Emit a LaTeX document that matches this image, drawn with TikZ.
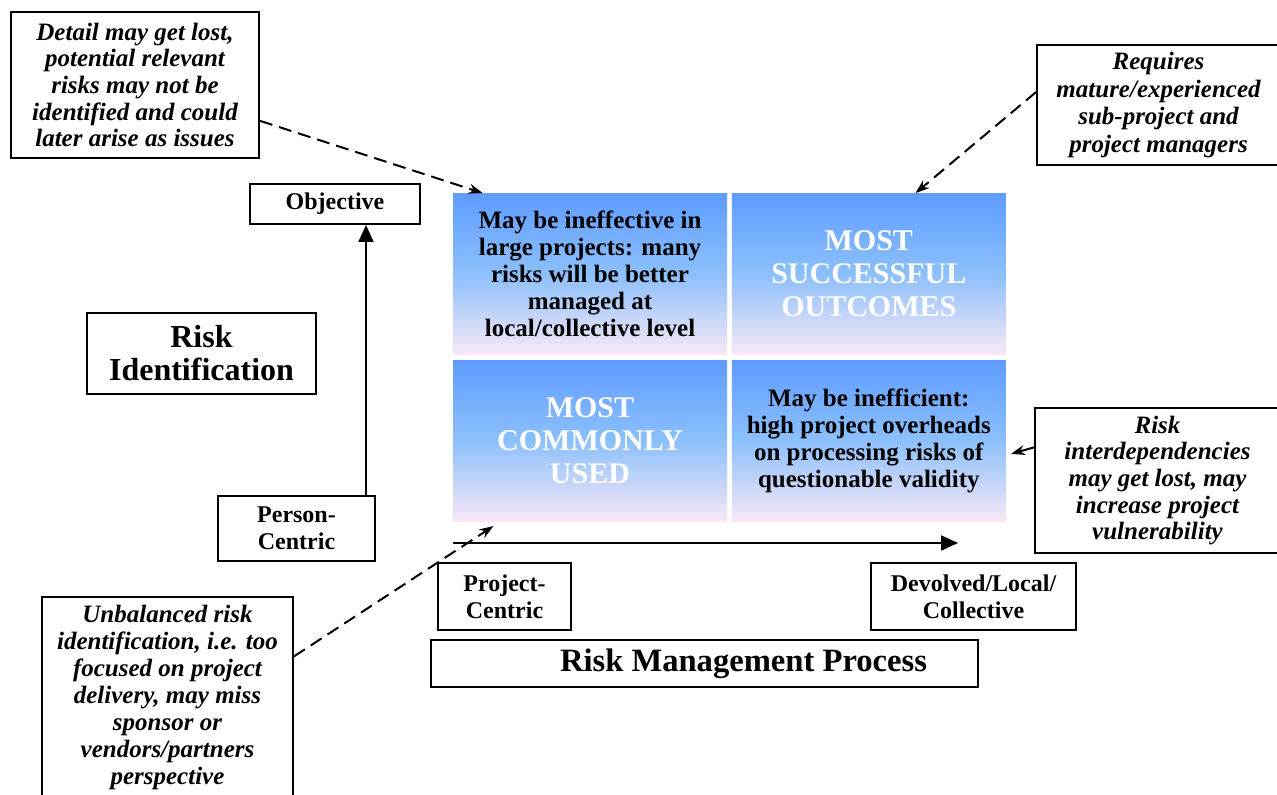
\documentclass[tikz,border=0pt]{standalone}
\usepackage{fontspec}
\setmainfont{Liberation Serif}
\usetikzlibrary{arrows.meta, positioning}

\definecolor{celltop}{RGB}{94,156,255}
\definecolor{cellmid}{RGB}{140,192,252}
\definecolor{cellbot}{RGB}{248,232,246}

\tikzset{
	axisbox/.style={draw, line width=1pt, fill=white, align=center,
		font=\fontsize{12}{13.5}\selectfont\bfseries},
	remark/.style={draw, line width=1pt, fill=white, align=center,
		font=\fontsize{12.5}{13.3}\selectfont\bfseries\itshape},
	cell/.style={minimum width=137pt, minimum height=80.5pt, align=center,
		top color=celltop, bottom color=cellbot, middle color=cellmid,
		font=\fontsize{12.5}{13.5}\selectfont\bfseries},
	bigcell/.style={cell, text=white, font=\fontsize{15}{16.5}\selectfont\bfseries},
	pointer/.style={dashed, dash pattern=on 6.5pt off 3.5pt, line width=1pt, -{Stealth[length=7pt, width=5pt]}},
	axis/.style={line width=1pt, -{Triangle[length=8.5pt, width=7.5pt]}}
}

\begin{document}
\begin{tikzpicture}[x=0.5pt, y=-0.5pt, node distance=2pt]
		\useasboundingbox (0,0) rectangle (1277,795);

		% Add the four quadrants
		\node[cell] (tl) at (590,274) {May be ineffective in\\ large projects: many\\ risks will be better\\ managed at\\ local/collective level};
		\node[bigcell, right=2pt of tl] (tr) {MOST\\ SUCCESSFUL\\ OUTCOMES};
		\node[bigcell, below=2.5pt of tl] (bl) {MOST\\ COMMONLY\\ USED};
		\node[cell, right=2pt of bl] (br) {May be inefficient:\\ high project overheads\\ on processing risks of\\ questionable validity};

		% Add the axis labels
		\node[axisbox, minimum width=85pt, minimum height=20pt] (obj) at (335,204) {Objective};
		\node[axisbox, minimum width=78.5pt, minimum height=32.5pt] (person) at (296.5,528.5) {Person-\\ Centric};
		\node[axisbox, minimum width=66.5pt, minimum height=33.5pt] (project) at (504.5,596.5) {Project-\\ Centric};
		\node[axisbox, minimum width=102.5pt, minimum height=33.5pt] (devolved) at (973.5,596.5) {Devolved/Local/\\ Collective};
		\node[axisbox, minimum width=114.5pt, minimum height=40.5pt, font=\fontsize{16}{16.5}\selectfont\bfseries] (riskid) at (201.5,353.5) {Risk\\ Identification};
		\node[axisbox, minimum height=23.5pt, inner xsep=25.5pt, text width=222.5pt, align=flush right, font=\fontsize{16.3}{17}\selectfont\bfseries] (rmp) at (704.5,663.5) {Risk Management Process};

		% Add the remarks
		\node[remark, minimum width=124pt, minimum height=73pt] (detail) at (135,85) {Detail may get lost,\\ potential relevant\\ risks may not be\\ identified and could\\ later arise as issues};
		\node[remark, minimum width=121.5pt, minimum height=60pt, font=\fontsize{12.5}{13.7}\selectfont\bfseries\itshape] (mature) at (1158.5,105) {Requires\\ mature/experienced\\ sub-project and\\ project managers};
		\node[remark, minimum width=122.5pt, minimum height=72.5pt] (interdep) at (1157.5,480.5) {Risk\\ interdependencies\\ may get lost, may\\ increase project\\ vulnerability};
		\node[remark, minimum width=125.5pt, minimum height=100.5pt, font=\fontsize{12.5}{13.5}\selectfont\bfseries\itshape] (unbal) at (167.5,697.5) {Unbalanced risk\\ identification, i.e. too\\ focused on project\\ delivery, may miss\\ sponsor or\\ vendors/partners\\ perspective};

		% Draw the axes
		\coordinate (ybase) at (366,496);
		\coordinate (xbase) at (453,543);
		\coordinate (xend) at (958,543);
		\draw[axis] (ybase) -- (ybase |- obj.south);
		\draw[axis] (xbase) -- (xend);

		% Connect the remarks with the quadrants
		\draw[pointer] (detail.-16) -- (tl.143);
		\draw[pointer] (mature.174) -- (tr.60);
		\draw[pointer, shorten >=4pt] (unbal.18) -- (bl.222);
		\draw[line width=1pt, -{Stealth[length=7pt, width=5pt]}, shorten >=2.5pt] (interdep.165) -- (br.-6);
	\end{tikzpicture}
\end{document}
